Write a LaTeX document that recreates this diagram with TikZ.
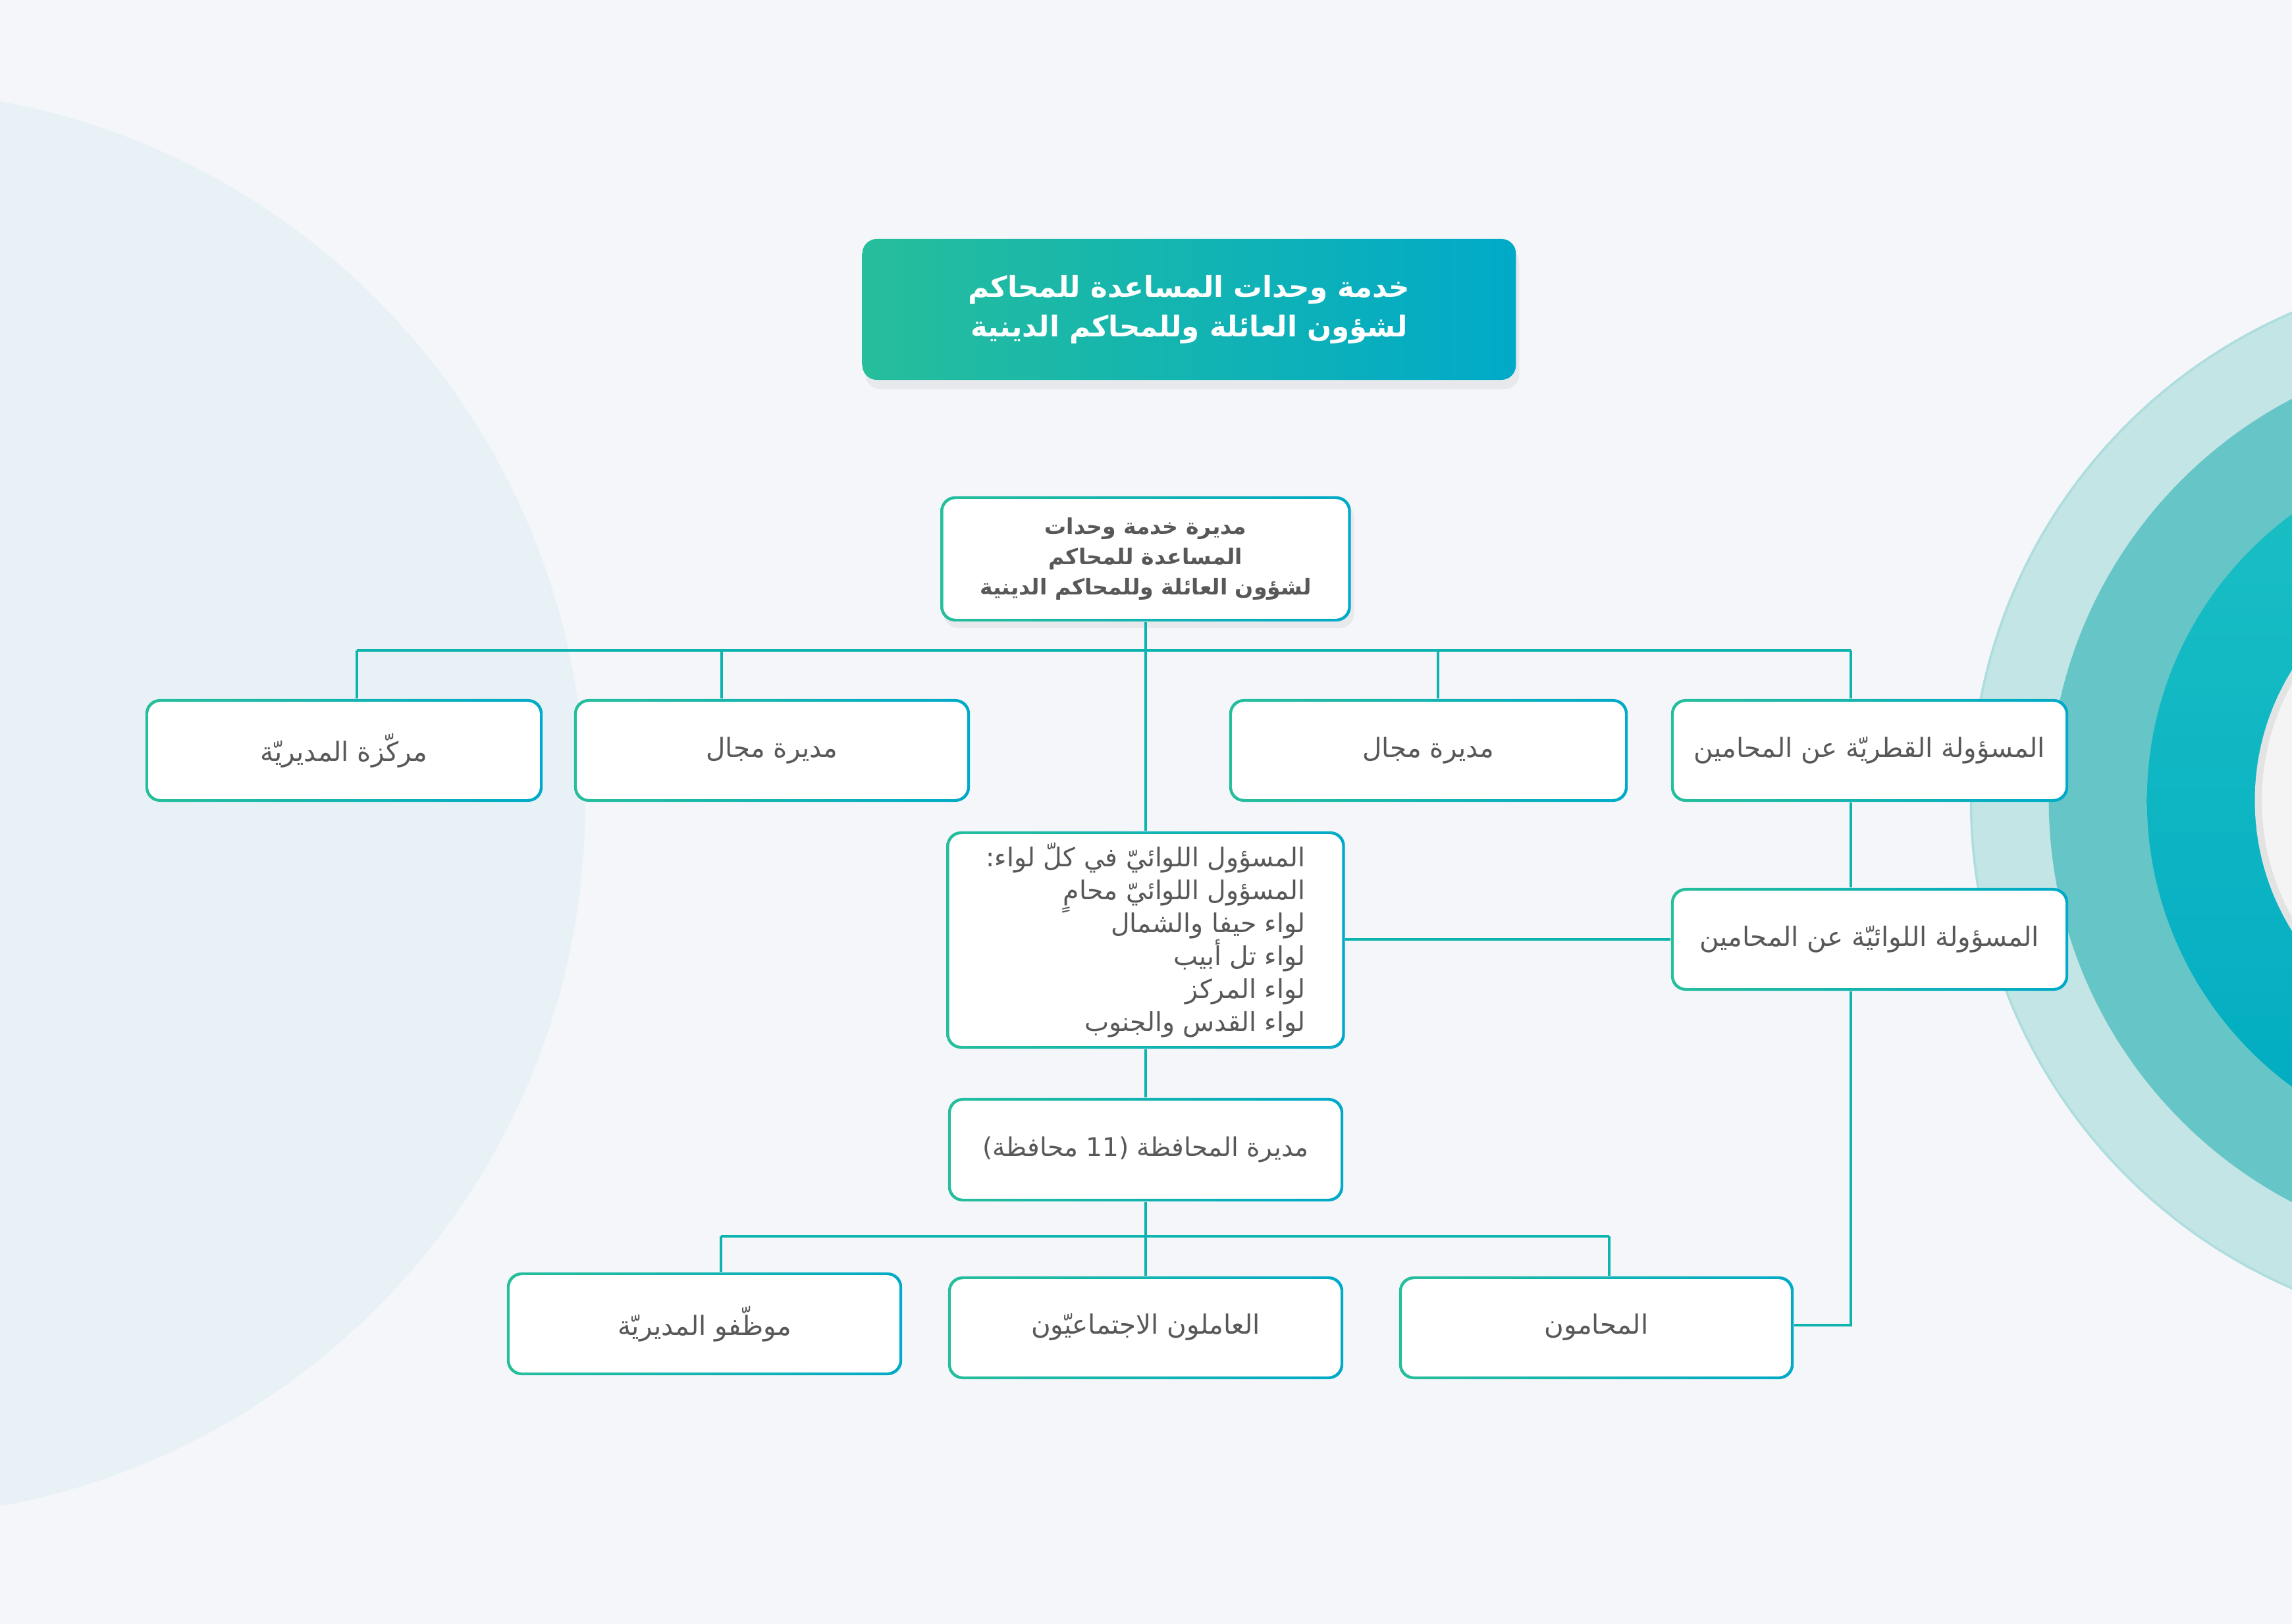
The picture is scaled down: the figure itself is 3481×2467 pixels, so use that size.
\documentclass[tikz,border=0pt]{standalone}
\usepackage{fontspec}
\usetikzlibrary{shadows}
\TeXXeTstate=1
\newfontfamily\arabicfont[Script=Arabic]{DejaVu Sans}
\newcommand\AR[1]{\beginR #1\endR}
\newcommand\tightlines{\lineskiplimit=-20pt\relax}
\definecolor{bgc}{HTML}{F4F6FA}
\definecolor{leftcirc}{HTML}{E7F1F6}
\definecolor{ringA}{HTML}{C3E5E6}
\definecolor{ringAedge}{HTML}{AEDDDD}
\definecolor{ringB}{HTML}{66C6C7}
\definecolor{ringCtop}{HTML}{1CC0C4}
\definecolor{ringCbot}{HTML}{00ABC2}
\definecolor{coreC}{HTML}{F4F4F4}
\definecolor{coreEdge}{HTML}{E3E3E3}
\definecolor{gA}{HTML}{26BE9B}
\definecolor{gM}{HTML}{02B5AB}
\definecolor{gB}{HTML}{00AAC8}
\definecolor{linec}{HTML}{0DB3AE}
\definecolor{txt}{HTML}{58585A}
\tikzset{
  gbox/.style={rounded corners=0.22cm, left color=gA, right color=gB, inner sep=0pt,
    text=txt, font=\arabicfont\fontsize{11.5}{14}\selectfont,
    path picture={\fill[white, rounded corners=0.19cm]
      ([shift={(1.2pt,-1.2pt)}]path picture bounding box.north west) rectangle
      ([shift={(-1.2pt,1.2pt)}]path picture bounding box.south east);}},
  conn/.style={draw=linec, line width=0.9pt},
}
\begin{document}
\begin{tikzpicture}[x=0.01cm,y=-0.01cm]
\useasboundingbox (0,0) rectangle (3481,2467);
\fill[bgc] (0,0) rectangle (3481,2467);
\begin{scope}
\clip (0,0) rectangle (3481,2467);
\fill[leftcirc] (-196,1221) circle[radius=10.84cm];
\fill[ringA, draw=ringAedge, line width=1pt] (3800,1216) circle[radius=8.06cm];
\fill[ringB] (3800,1216) circle[radius=6.88cm];
\shade[top color=ringCtop, bottom color=ringCbot] (3800,1216) circle[radius=5.39cm];
\fill[coreC, draw=coreEdge, line width=3pt] (3800,1216) circle[radius=3.70cm];
\end{scope}

% title
\node[rounded corners=0.22cm, left color=gA, middle color=gM, right color=gB,
  minimum width=9.92cm, minimum height=2.14cm, inner sep=0pt,
  drop shadow={opacity=0.10, shadow xshift=0.05cm, shadow yshift=-0.14cm},
  text=white, align=center, font={\arabicfont\bfseries\fontsize{12.4}{17}\selectfont}]
  (T) at (1806,470) {\AR{خدمة وحدات المساعدة للمحاكم}\\\AR{لشؤون العائلة وللمحاكم الدينية}};

% director
\node[gbox, minimum width=6.23cm, minimum height=1.90cm, align=center,
  drop shadow={opacity=0.10, shadow xshift=0.05cm, shadow yshift=-0.1cm},
  font={\arabicfont\bfseries\fontsize{9.4}{13.2}\selectfont\tightlines}]
  (D) at (1740,849) {\AR{مديرة خدمة وحدات}\\\AR{المساعدة للمحاكم}\\\AR{لشؤون العائلة وللمحاكم الدينية}};

% row 1
\node[gbox, minimum width=6.03cm, minimum height=1.56cm] (B1) at (522.5,1140) {\AR{مركّزة المديريّة}};
\node[gbox, minimum width=6.01cm, minimum height=1.56cm] (B2) at (1172.5,1140) {\AR{مديرة مجال}};
\node[gbox, minimum width=6.05cm, minimum height=1.56cm] (B3) at (2169.5,1140) {\AR{مديرة مجال}};
\node[gbox, minimum width=6.03cm, minimum height=1.56cm] (B4) at (2839.5,1140) {\AR{المسؤولة القطريّة عن المحامين}};
\node[gbox, minimum width=6.03cm, minimum height=1.56cm] (B5) at (2839.5,1427) {\AR{المسؤولة اللوائيّة عن المحامين}};

% center
\node[gbox, minimum width=6.05cm, minimum height=3.30cm, align=right,
  font={\arabicfont\fontsize{11.2}{14.2}\selectfont\tightlines}]
  (C) at (1740,1428) {\AR{المسؤول اللوائيّ في كلّ لواء:}\\\AR{المسؤول اللوائيّ محامٍ}\\\AR{لواء حيفا والشمال}\\\AR{لواء تل أبيب}\\\AR{لواء المركز}\\\AR{لواء القدس والجنوب}};

\node[gbox, minimum width=6.00cm, minimum height=1.57cm, font={\arabicfont\fontsize{11.1}{14}\selectfont}] (M) at (1740,1746.5) {\AR{مديرة المحافظة (11 محافظة)}};

% bottom row
\node[gbox, minimum width=6.00cm, minimum height=1.56cm] (E1) at (1070,2011) {\AR{موظّفو المديريّة}};
\node[gbox, minimum width=6.00cm, minimum height=1.56cm] (E2) at (1740,2017) {\raisebox{0.12cm}{\AR{العاملون الاجتماعيّون}}};
\node[gbox, minimum width=5.99cm, minimum height=1.56cm] (L) at (2424.5,2017) {\raisebox{0.12cm}{\AR{المحامون}}};

% connectors
\coordinate (t1) at (542,988);
\coordinate (t2) at (1096,988);
\coordinate (t3) at (2184,988);
\coordinate (t4) at (2811,988);
\draw[conn] (t1) -- (t4);
\draw[conn] (D.south) -- (C.north);
\draw[conn] (t1) -- (t1 |- B1.north);
\draw[conn] (t2) -- (t2 |- B2.north);
\draw[conn] (t3) -- (t3 |- B3.north);
\draw[conn] (t4) -- (t4 |- B4.north);
\coordinate (r1) at (2811,1218);
\draw[conn] (r1 |- B4.south) -- (r1 |- B5.north);
\draw[conn] (C.east |- B5.west) -- (B5.west);
\coordinate (r2) at (2811,2013);
\draw[conn] (r1 |- B5.south) -- (r2) -- (r2 -| L.east);
\draw[conn] (C.south) -- (M.north);
\coordinate (u1) at (1095,1878);
\coordinate (u3) at (2444,1878);
\draw[conn] (M.south) -- (E2.north);
\draw[conn] (u1) -- (u3);
\draw[conn] (u1) -- (u1 |- E1.north);
\draw[conn] (u3) -- (u3 |- L.north);
\end{tikzpicture}
\end{document}
